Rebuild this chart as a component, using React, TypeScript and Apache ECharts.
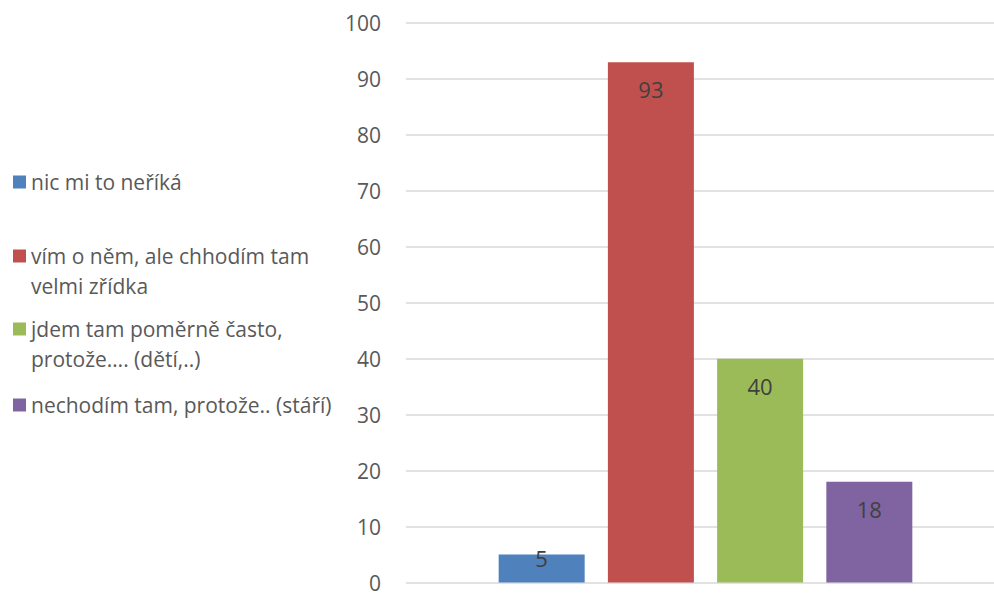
import React, { useEffect, useRef } from "react";
import * as echarts from "echarts";

const seriesNames = [
  "nic mi to neříká",
  "vím o něm, ale chhodím tam\nvelmi zřídka",
  "jdem tam poměrně často,\nprotože…. (dětí,..)",
  "nechodím tam, protože.. (stáří)",
];
const seriesValues = [5, 93, 40, 18];
const seriesColors = ["#4f81bd", "#c0504d", "#9bbb59", "#8064a2"];
const categories = [""];
const legendCenters = [182, 256, 329, 405];

const FONT = "Open Sans";
const LH = 29.5;

export default function App() {
  const ref = useRef<HTMLDivElement>(null);
  useEffect(() => {
    if (!ref.current) return;
    const chart = echarts.init(ref.current, undefined, { renderer: "svg" });
    const legends = seriesNames.map((name, i) => {
      const multi = name.includes("\n");
      const h = multi ? LH * 3 : LH;
      return {
        left: 13,
        top: legendCenters[i] - h / 2,
        padding: 0,
        itemWidth: 13,
        itemHeight: 13,
        itemGap: 0,
        icon: "rect",
        data: [name],
        selectedMode: false,
        formatter: (n: string) => (multi ? "\n" + n : n),
        textStyle: {
          fontFamily: FONT,
          fontSize: 21,
          color: "#595959",
          lineHeight: LH,
        },
      };
    });
    chart.setOption({
      animation: false,
      textStyle: { fontFamily: FONT },
      legend: legends,
      grid: { left: 406, right: 0, top: 23, bottom: 6, containLabel: false },
      xAxis: {
        type: "category",
        data: categories,
        axisLine: { show: false },
        axisTick: { show: false },
        axisLabel: { show: false },
      },
      yAxis: {
        type: "value",
        min: 0,
        max: 100,
        interval: 10,
        axisLine: { show: false },
        axisTick: { show: false },
        axisLabel: { fontFamily: FONT, fontSize: 21, color: "#595959", margin: 25 },
        splitLine: { lineStyle: { color: "#d9d9d9", width: 1.5 } },
      },
      series: seriesNames.map((name, i) => ({
        type: "bar",
        name,
        data: [
          seriesValues[i] < 10
            ? { value: seriesValues[i], label: { distance: 0, offset: [0, -8] } }
            : seriesValues[i],
        ],
        barWidth: 86,
        barGap: "27%",
        itemStyle: { color: seriesColors[i] },
        label: {
          show: true,
          position: "insideTop",
          distance: 16,
          fontFamily: FONT,
          fontSize: 22,
          color: "#404040",
        },
      })),
    });
    return () => chart.dispose();
  }, []);
  return (
    <div
      style={{ position: "absolute", left: 0, top: 0, width: 994, height: 593, overflow: "hidden", background: "#fff" }}
    >
      <div ref={ref} style={{ width: 1005, height: 593 }} />
    </div>
  );
}
